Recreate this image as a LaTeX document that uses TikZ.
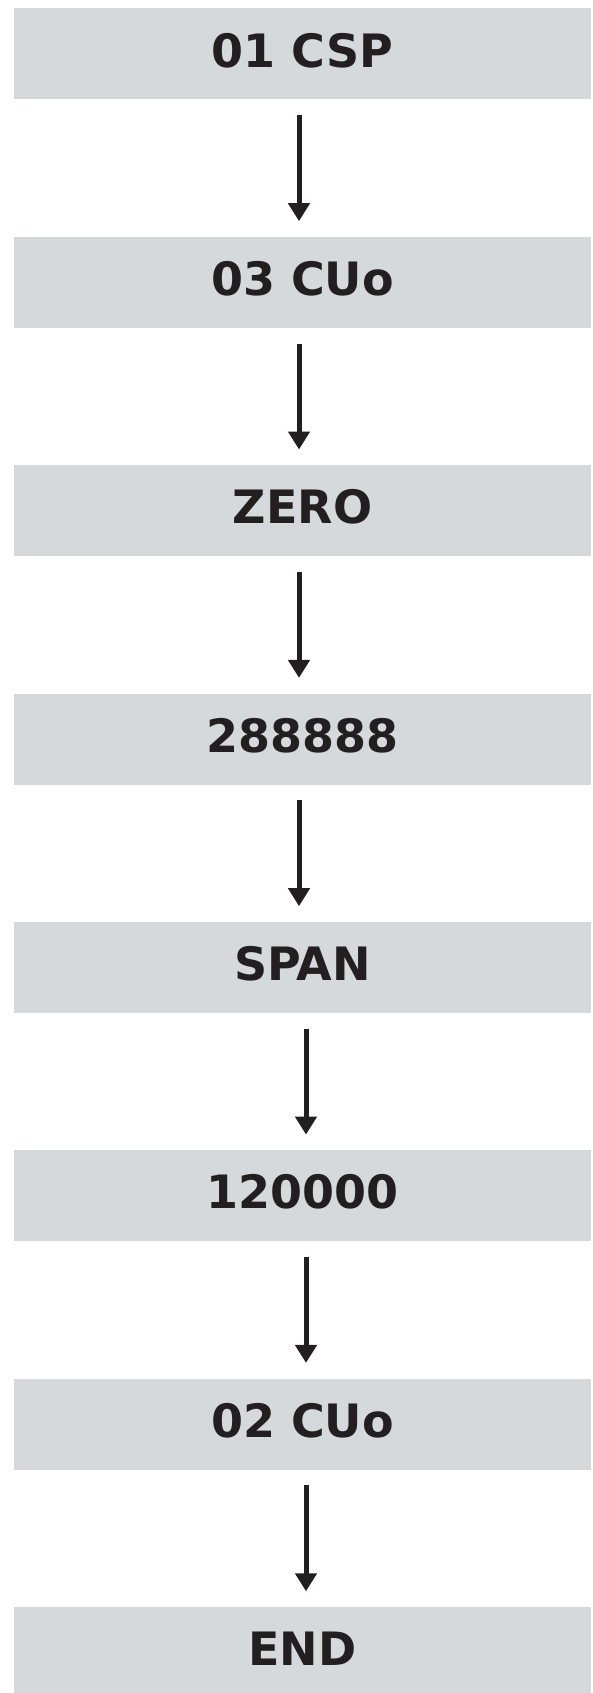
\documentclass[tikz,border=0pt]{standalone}
\usepackage{fontspec}
\setmainfont{DejaVu Sans}
\usepackage{xcolor}
\usepackage{tikz}
\usetikzlibrary{arrows.meta}
\definecolor{boxgray}{RGB}{213,217,220}
\definecolor{ink}{RGB}{35,31,32}
\tikzset{flow/.style={draw=ink, line width=5pt, -{Triangle[width=21pt,length=18pt]}}}

\begin{document}
\begin{tikzpicture}[x=1pt,y=1pt]
\useasboundingbox (0,0) rectangle (592,-1693);
\begin{scope}[every node/.style={fill=boxgray, text=ink, inner sep=0pt,
    minimum width=577pt, minimum height=91pt, text depth=8pt,
    font=\fontsize{46}{50}\selectfont\bfseries}]
  \node (csp) at (302.5,-54) {01 CSP};
  \node (cuthree) at (302.5,-282.4) {03 CUo};
  \node (zero) at (302.5,-510.7) {ZERO};
  \node (eights) at (302.5,-739.1) {288888};
  \node (span) at (302.5,-967.4) {SPAN};
  \node (value) at (302.5,-1195.8) {120000};
  \node (cutwo) at (302.5,-1424.1) {02 CUo};
  \node (fin) at (302.5,-1652.5) {END};
\end{scope}
\draw[flow] ([xshift=-3.5pt,yshift=-15.5pt]csp.south) -- ([xshift=-3.5pt,yshift=15.5pt]cuthree.north);
\draw[flow] ([xshift=-3.5pt,yshift=-15.5pt]cuthree.south) -- ([xshift=-3.5pt,yshift=15.5pt]zero.north);
\draw[flow] ([xshift=-3.5pt,yshift=-15.5pt]zero.south) -- ([xshift=-3.5pt,yshift=15.5pt]eights.north);
\draw[flow] ([xshift=-3.5pt,yshift=-15.5pt]eights.south) -- ([xshift=-3.5pt,yshift=15.5pt]span.north);
\draw[flow] ([xshift=3.5pt,yshift=-15.5pt]span.south) -- ([xshift=3.5pt,yshift=15.5pt]value.north);
\draw[flow] ([xshift=3.5pt,yshift=-15.5pt]value.south) -- ([xshift=3.5pt,yshift=15.5pt]cutwo.north);
\draw[flow] ([xshift=3.5pt,yshift=-15.5pt]cutwo.south) -- ([xshift=3.5pt,yshift=15.5pt]fin.north);
\end{tikzpicture}
\end{document}
